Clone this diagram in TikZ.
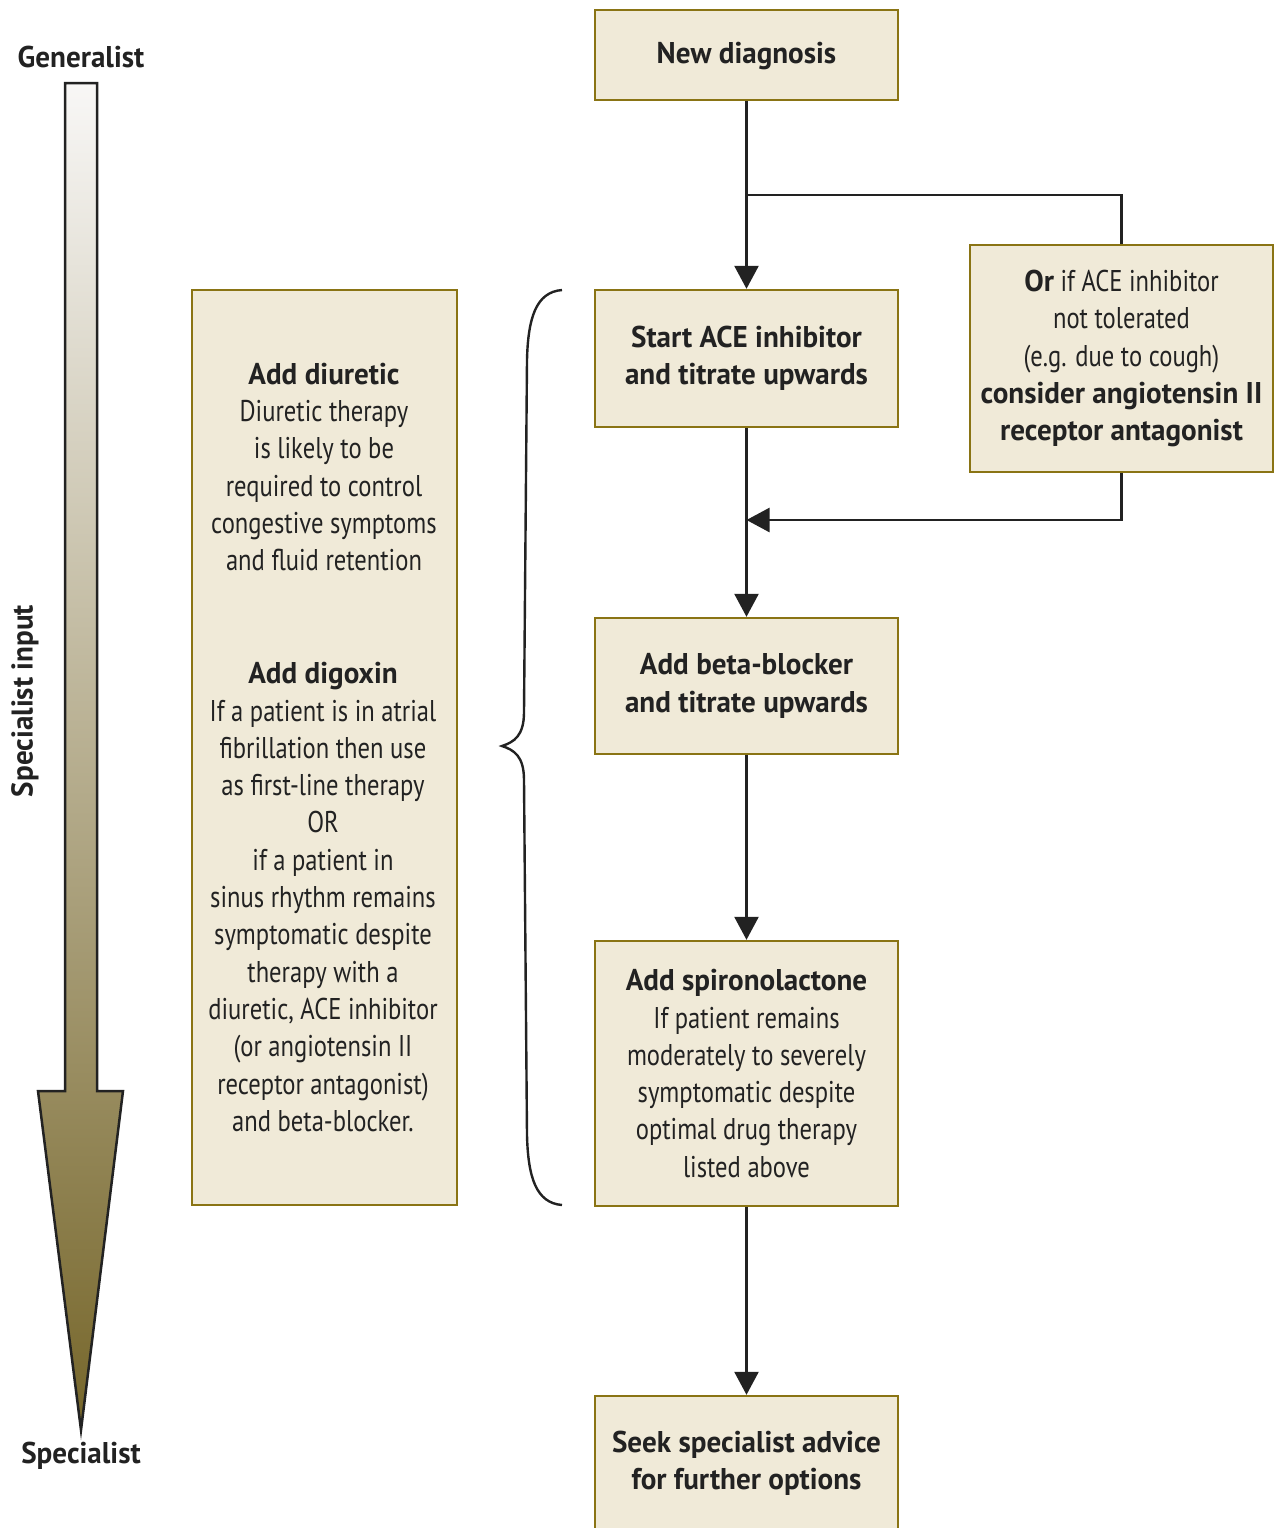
\documentclass[tikz,border=0pt]{standalone}
\usepackage{fontspec}
\setmainfont{PT Sans}[FakeStretch=0.82, BoldFeatures={FakeStretch=0.97}]
\usetikzlibrary{arrows.meta}
\definecolor{boxfill}{HTML}{F0EAD8}
\definecolor{boxline}{HTML}{8A7414}
\definecolor{ink}{HTML}{222222}
\definecolor{shtop}{HTML}{F8F7F6}
\definecolor{shmid}{HTML}{B3AC9E}
\definecolor{shbot}{HTML}{76662A}
\begin{document}
\begin{tikzpicture}[x=0.5pt,y=-0.5pt,
  txt/.style={font=\fontsize{15pt}{18.65pt}\selectfont, text=ink, align=center, inner sep=0pt},
  box/.style={txt, draw=boxline, fill=boxfill, line width=1.2pt, minimum width=151.5pt},
  flow/.style={draw=ink, line width=1.25pt, -{Triangle[width=12pt,length=11.5pt]}},
  link/.style={draw=ink, line width=1.25pt}]
\useasboundingbox (0,0) rectangle (1282,1528);

% left gradient arrow
\path[draw=ink, line width=1.25pt, top color=shtop, middle color=shmid, bottom color=shbot]
  (65,83) -- (97,83) -- (97,1091) -- (123,1091) -- (81,1430) -- (38,1091) -- (65,1091) -- cycle;
\node[txt, font=\fontsize{15pt}{18pt}\selectfont\bfseries] (gen) at (81,57) {Generalist};
\node[txt, font=\fontsize{15pt}{18pt}\selectfont\bfseries] (spec) at (81,1456) {Specialist};
\node[txt, font=\fontsize{15pt}{18pt}\selectfont\bfseries, rotate=90] (sinput) at (25,701) {Specialist input};

% left box
\node[box, minimum width=132.5pt, minimum height=457.5pt] (lbox) at (324.5,747.5) {};
\node[txt] (diur) at (324,467) {\textbf{Add diuretic}\\Diuretic therapy\\is likely to be\\required to control\\congestive symptoms\\and fluid retention};
\node[txt] (digo) at (323,897) {\textbf{Add digoxin}\\If a patient is in atrial\\fibrillation then use\\as first-line therapy\\OR\\if a patient in\\sinus rhythm remains\\symptomatic despite\\therapy with a\\diuretic, ACE inhibitor\\(or angiotensin II\\receptor antagonist)\\and beta-blocker.};

% brace
\draw[ink, line width=1.2pt] (562,290) .. controls (536,292) and (528,318) .. (527,360)
  -- (524,712) .. controls (524,736) and (514,742) .. (502,746)
  .. controls (514,750) and (524,756) .. (524,780)
  -- (527,1135) .. controls (528,1177) and (536,1203) .. (562,1205);

% flow boxes
\node[box, minimum height=45pt, text depth=2pt] (nd) at (746.5,55) {\textbf{New diagnosis}};
\node[box, minimum height=68.5pt] (ace) at (746.5,358.5) {\textbf{Start ACE inhibitor}\\\textbf{and titrate upwards}};
\node[box, minimum height=113.5pt] (arb) at (1121.5,358.5) {\textbf{Or} if ACE inhibitor\\not tolerated\\(e.g. due to cough)\\\textbf{consider angiotensin II}\\\textbf{receptor antagonist}};
\node[box, minimum height=68pt] (beta) at (746.5,686) {\textbf{Add beta-blocker}\\\textbf{and titrate upwards}};
\node[box, minimum height=132.5pt] (spiro) at (746.5,1073.5) {\textbf{Add spironolactone}\\If patient remains\\moderately to severely\\symptomatic despite\\optimal drug therapy\\listed above};
\node[box, minimum height=67.5pt] (seek) at (746.5,1463.5) {\textbf{Seek specialist advice}\\\textbf{for further options}};

% connectors
\coordinate (split) at (746.5,195);
\coordinate (merge) at (746.5,520);
\draw[flow] (nd) -- (ace);
\draw[link] (split) -| (arb.north);
\draw[flow] (arb.south) |- (merge);
\draw[flow] (ace) -- (beta);
\draw[flow] (beta) -- (spiro);
\draw[flow] (spiro) -- (seek);
\end{tikzpicture}
\end{document}
